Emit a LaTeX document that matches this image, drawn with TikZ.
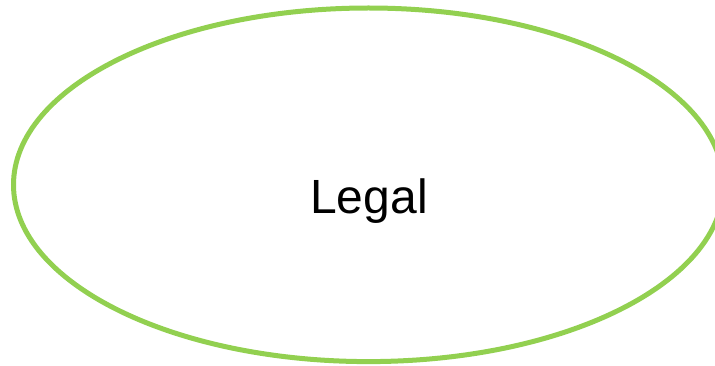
\documentclass[tikz,border=0pt]{standalone}
\usepackage{fontspec}
\setmainfont{Liberation Sans}
\definecolor{lgreen}{HTML}{92D050}
\begin{document}
\begin{tikzpicture}[x=1pt,y=-1pt,
  oval/.style={draw=lgreen,line width=5pt}]
\useasboundingbox (0,0) rectangle (715,366);
\draw[oval] (368.5,184.8) ellipse [x radius=355, y radius=176.8];
\node[anchor=base,inner sep=0pt,font=\fontsize{48}{58}\selectfont] (t) at (369,214) {Legal};
\end{tikzpicture}
\end{document}
